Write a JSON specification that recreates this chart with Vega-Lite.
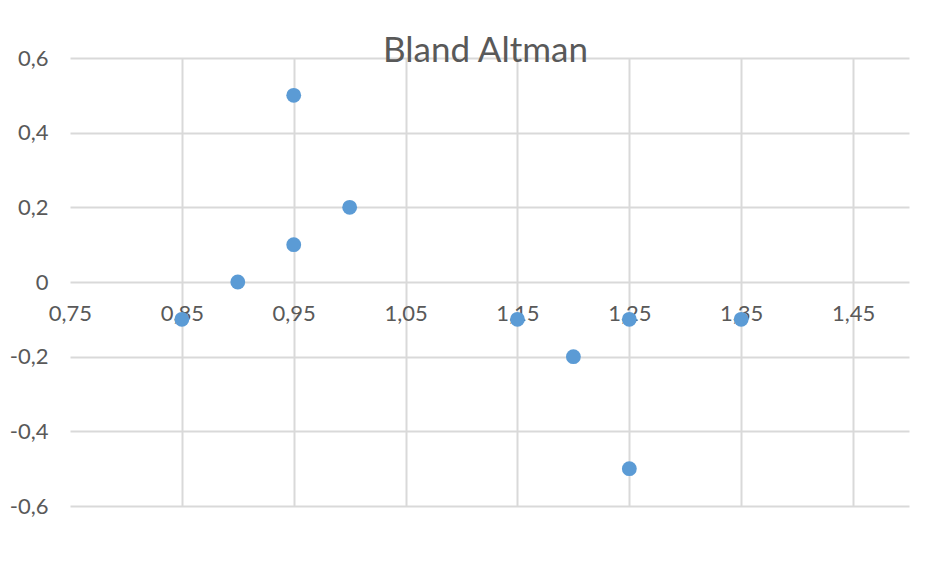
{
  "$schema": "https://vega.github.io/schema/vega-lite/v6.json",
  "width": 839,
  "height": 448,
  "autosize": {"type": "none"},
  "padding": {"left": 70, "top": 58, "right": 43, "bottom": 75},
  "background": "white",
  "config": {
    "locale": {"number": {"decimal": ",", "thousands": ".", "grouping": [3], "currency": ["", " €"], "minus": "-"}},
    "view": {"stroke": null},
    "font": "Lato"
  },
  "title": {
    "text": "Bland Altman",
    "fontSize": 35,
    "font": "Lato",
    "fontWeight": "normal",
    "color": "#595959",
    "anchor": "middle",
    "frame": "group",
    "baseline": "alphabetic",
    "offset": -50,
    "dx": -4,
    "zindex": 1
  },
  "data": {
    "values": [
      {"mean": 0.85, "diff": -0.1},
      {"mean": 0.9, "diff": 0.0},
      {"mean": 0.95, "diff": 0.5},
      {"mean": 0.95, "diff": 0.1},
      {"mean": 1.0, "diff": 0.2},
      {"mean": 1.15, "diff": -0.1},
      {"mean": 1.2, "diff": -0.2},
      {"mean": 1.25, "diff": -0.1},
      {"mean": 1.25, "diff": -0.5},
      {"mean": 1.35, "diff": -0.1}
    ]
  },
  "mark": {"type": "point", "filled": true, "opacity": 1, "color": "#5b9bd5", "size": 220},
  "encoding": {
    "x": {
      "field": "mean",
      "type": "quantitative",
      "scale": {"domain": [0.75, 1.5], "nice": false, "zero": false},
      "axis": {
        "title": null,
        "values": [0.75, 0.85, 0.95, 1.05, 1.15, 1.25, 1.35, 1.45],
        "format": ".2f",
        "offset": -224,
        "domain": false,
        "ticks": false,
        "tickSize": 0,
        "labelFlush": false,
        "labelOverlap": false,
        "labelPadding": 21,
        "labelFontSize": 22,
        "labelColor": "#595959",
        "labelFont": "Lato",
        "labelBaseline": "top",
        "labelAlign": "center",
        "grid": true,
        "gridColor": {"condition": {"test": "datum.value < 0.76", "value": "transparent"}, "value": "#d9d9d9"},
        "gridWidth": 2
      }
    },
    "y": {
      "field": "diff",
      "type": "quantitative",
      "scale": {"domain": [-0.6, 0.6], "nice": false},
      "axis": {
        "title": null,
        "values": [-0.6, -0.4, -0.2, 0, 0.2, 0.4, 0.6],
        "format": ".1~f",
        "domain": false,
        "ticks": false,
        "tickSize": 0,
        "labelFlush": false,
        "labelOverlap": false,
        "labelPadding": 22,
        "labelFontSize": 22,
        "labelColor": "#595959",
        "labelFont": "Lato",
        "labelBaseline": "middle",
        "grid": true,
        "gridColor": "#d9d9d9",
        "gridWidth": 2
      }
    }
  }
}
